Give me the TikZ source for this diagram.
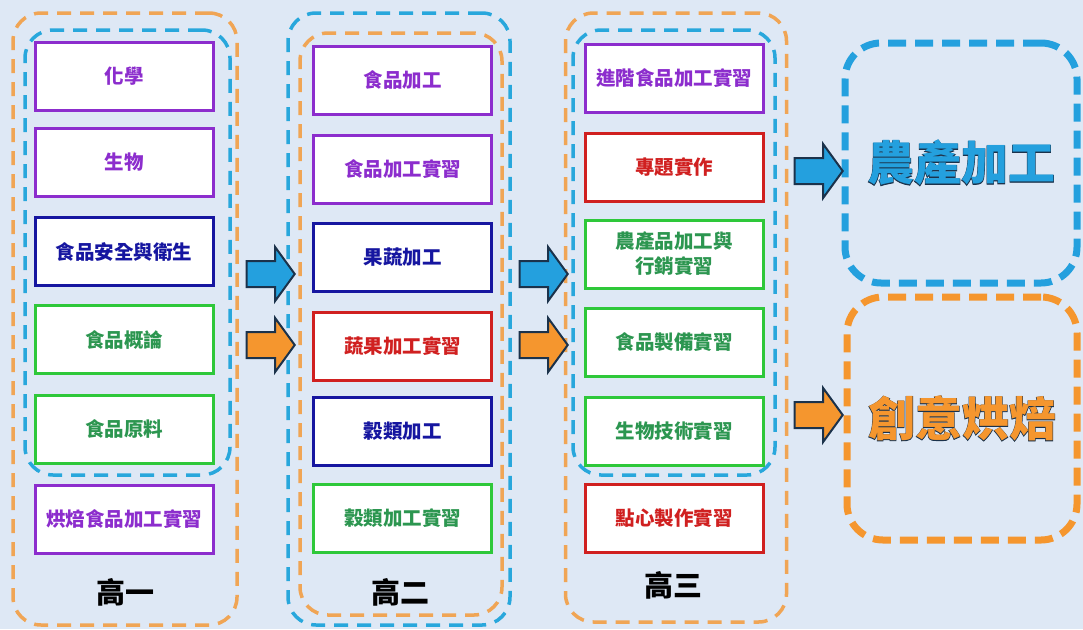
\documentclass[tikz,border=0pt]{standalone}
\usepackage{fontspec}
\newfontfamily\cjk{Noto Sans CJK TC}
\newfontfamily\cjkout{Noto Sans CJK TC}[FakeBold=1.8]
\usetikzlibrary{shapes.arrows}
\definecolor{bg}{RGB}{222,232,245}
\definecolor{cpurple}{RGB}{140,45,205}
\definecolor{cnavy}{RGB}{22,22,160}
\definecolor{cgreenb}{RGB}{46,200,58}
\definecolor{cgreent}{RGB}{44,150,80}
\definecolor{cred}{RGB}{208,32,32}
\definecolor{dorange}{RGB}{240,165,85}
\definecolor{dblue}{RGB}{40,167,220}
\definecolor{borange}{RGB}{245,150,46}
\definecolor{bblue}{RGB}{36,160,222}
\definecolor{arrline}{RGB}{27,50,75}
\begin{document}
\begin{tikzpicture}[x=1pt,y=-1pt,
  course/.style={draw, line width=3pt, fill=white, minimum width=178pt, minimum height=68pt,
    inner sep=0pt, align=center, font=\cjk\bfseries\fontsize{19.5}{24}\selectfont},
  pbox/.style={course, draw=cpurple, text=cpurple},
  nbox/.style={course, draw=cnavy, text=cnavy},
  gbox/.style={course, draw=cgreenb, text=cgreent},
  rbox/.style={course, draw=cred, text=cred},
  cont/.style={draw, line width=3.5pt, dash pattern=on 14pt off 9pt, rounded corners=28pt, inner sep=0pt},
  ocont/.style={cont, draw=dorange},
  bcont/.style={cont, draw=dblue},
  bigbox/.style={draw, line width=7pt, dash pattern=on 18pt off 9pt, rounded corners=36pt, inner sep=0pt},
  blockarrow/.style={single arrow, draw=arrline, line width=2pt, minimum height=48pt,
    inner xsep=0pt, inner ysep=12pt, single arrow head extend=14pt, single arrow tip angle=108},
  yearlbl/.style={font=\cjk\bfseries\fontsize{29}{33}\selectfont, text=black},
  goal/.style={font=\cjk\bfseries\fontsize{47}{50}\selectfont}
]
\fill[bg] (0,0) rectangle (1083,629);
\useasboundingbox (0,0) rectangle (1083,629);

% containers
\node[ocont, minimum width=224pt, minimum height=612pt] (c1o) at (125,319) {};
\node[bcont, minimum width=205pt, minimum height=445pt] (c1b) at (127.5,252.5) {};
\node[bcont, minimum width=222pt, minimum height=612pt] (c2b) at (399,319) {};
\node[ocont, minimum width=202pt, minimum height=582pt] (c2o) at (401,324) {};
\node[ocont, minimum width=221pt, minimum height=609pt] (c3o) at (676,317.5) {};
\node[bcont, minimum width=202pt, minimum height=445pt] (c3b) at (674,252.5) {};

% column 1
\node[pbox] (a1) at (124,76) {化學};
\node[pbox] (a2) at (124,162.5) {生物};
\node[nbox] (a3) at (124,251.5) {食品安全與衛生};
\node[gbox] (a4) at (124,339.5) {食品概論};
\node[gbox] (a5) at (124,429) {食品原料};
\node[pbox] (a6) at (124,519) {烘焙食品加工實習};
\node[yearlbl] (y1) at (125,592) {高一};

% column 2
\node[pbox] (b1) at (402.5,80) {食品加工};
\node[pbox] (b2) at (402.5,169) {食品加工實習};
\node[nbox] (b3) at (402.5,257.5) {果蔬加工};
\node[rbox] (b4) at (402.5,346) {蔬果加工實習};
\node[nbox] (b5) at (402.5,431.5) {穀類加工};
\node[gbox] (b6) at (402.5,518) {穀類加工實習};
\node[yearlbl] (y2) at (400,592) {高二};

% column 3
\node[pbox] (d1) at (674,78) {進階食品加工實習};
\node[rbox] (d2) at (674,167.5) {專題實作};
\node[gbox, font=\cjk\bfseries\fontsize{19.5}{25}\selectfont] (d3) at (674,254) {農產品加工與\\行銷實習};
\node[gbox] (d4) at (674,342.5) {食品製備實習};
\node[gbox] (d5) at (674,431) {生物技術實習};
\node[rbox] (d6) at (674,518) {點心製作實習};
\node[yearlbl] (y3) at (673,585) {高三};

% goals
\node[bigbox, draw=bblue, minimum width=232pt, minimum height=240pt] (g1) at (961,163) {};
\node[bigbox, draw=borange, minimum width=230pt, minimum height=243pt] (g2) at (962,418.5) {};
\node[goal, text=arrline, font=\cjkout\bfseries\fontsize{47}{50}\selectfont] at (g1) {農產加工};
\node[goal, text=bblue] (t1) at (g1) {農產加工};
\node[goal, text=arrline, font=\cjkout\bfseries\fontsize{47}{50}\selectfont] at (g2) {創意烘焙};
\node[goal, text=borange] (t2) at (g2) {創意烘焙};

% arrows
\node[blockarrow, fill=bblue] (ar1) at (266,274) {};
\node[blockarrow, fill=borange] (ar2) at (266,345) {};
\node[blockarrow, fill=bblue] (ar3) at (539,274) {};
\node[blockarrow, fill=borange] (ar4) at (539,345) {};
\node[blockarrow, fill=bblue] (ar5) at (814,171) {};
\node[blockarrow, fill=borange] (ar6) at (814,415) {};
\end{tikzpicture}
\end{document}
